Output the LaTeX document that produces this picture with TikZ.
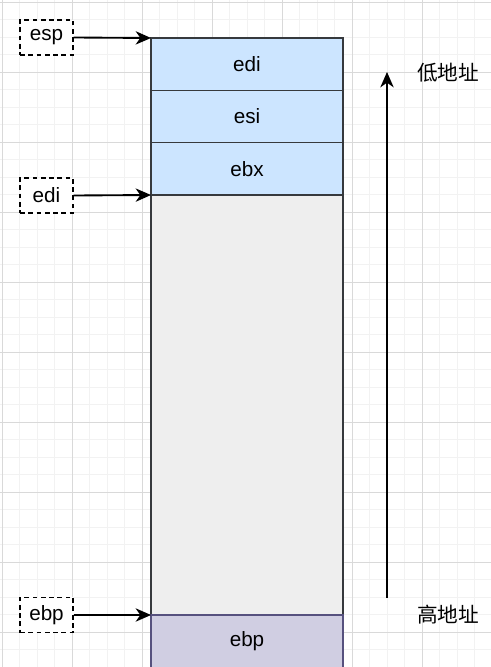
\documentclass[tikz,border=0pt]{standalone}
\usepackage{fontspec}
\setmainfont{Liberation Sans}
\newfontfamily\cjk{Noto Sans CJK SC}
\usepackage{xcolor}
\definecolor{slotblue}{HTML}{CCE5FF}
\definecolor{slotgray}{HTML}{EEEEEE}
\definecolor{slotpurple}{HTML}{D0CEE2}
\definecolor{edgedark}{HTML}{36393D}
\definecolor{edgepurple}{HTML}{56517E}
\usetikzlibrary{arrows.meta,positioning}
\tikzset{
  slot/.style={draw=edgedark,line width=1pt,fill=slotblue,outer sep=0pt,%
    inner sep=0pt,minimum width=144pt,minimum height=39.25pt,font=\fontsize{15.5}{18}\selectfont},
  ptr/.style={draw,line width=1.1pt,dash pattern=on 3.6pt off 2.6pt,fill=white,%
    inner sep=0pt,minimum width=39.75pt,minimum height=26.5pt,font=\fontsize{15.5}{18}\selectfont},
  ptrarrow/.style={-{Stealth[length=11.5pt,width=10pt,inset=3.5pt]},line width=1.4pt},
  addr/.style={font=\cjk\fontsize{15.5}{18}\selectfont},
  minorgrid/.style={draw=gray!10,line width=0.5pt},
  majorgrid/.style={draw=gray!30,line width=0.6pt},
}
\begin{document}
\begin{tikzpicture}[x=0.75pt,y=-0.75pt]
\useasboundingbox (0,0) rectangle (491,667);
% background grid
\fill[white] (0,0) rectangle (491,667);
\foreach \i in {0,...,28} \draw[minorgrid] ({2+17.5*\i},0) -- ({2+17.5*\i},667);
\foreach \j in {0,...,38} \draw[minorgrid] (0,{2+17.5*\j}) -- (491,{2+17.5*\j});
\foreach \i in {0,...,7} \draw[majorgrid] ({2+70*\i},0) -- ({2+70*\i},667);
\foreach \j in {0,...,9} \draw[majorgrid] (0,{2+70*\j}) -- (491,{2+70*\j});
% stack
\node[slot,anchor=north west] (edi) at (151,38) {edi};
\node[slot,below=0pt of edi] (esi) {esi};
\node[slot,below=0pt of esi] (ebx) {ebx};
\node[slot,below=0pt of ebx,fill=slotgray,minimum height=315pt] (free) {};
\node[slot,below=0pt of free,fill=slotpurple,draw=edgepurple] (ebp) {ebp};
% pointers
\node[ptr] (pesp) at (46.5,37.5) {esp};
\node[ptr] (pedi) at (46.5,195.5) {edi};
\node[ptr] (pebp) at (46.5,615) {ebp};
\draw[ptrarrow] (pesp.east) -- (edi.north west);
\draw[ptrarrow] (pedi.east) -- (ebx.south west);
\draw[ptrarrow] (pebp.east) -- (ebp.north west);
% address direction
\coordinate (hi) at (387,598);
\coordinate (lo) at (387,72);
\draw[ptrarrow] (hi) -- (lo);
\node[addr] (lowaddr) at (448,73) {低地址};
\node[addr] (highaddr) at (448,615) {高地址};
\end{tikzpicture}
\end{document}
